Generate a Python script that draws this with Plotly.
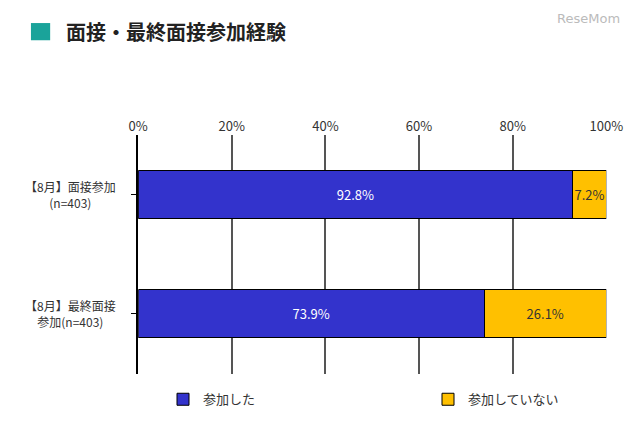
import plotly.graph_objects as go

categories = ["【8月】面接参加<br>(n=403)", "【8月】最終面接<br>参加(n=403)"]
joined = [92.8, 73.9]
not_joined = [7.2, 26.1]
font = "Noto Sans CJK JP"

fig = go.Figure()
fig.add_trace(go.Bar(y=categories, x=joined, orientation="h", name="参加した",
                     marker=dict(color="#3333CC", line=dict(color="black", width=1)),
                     text=[f"{v}%" for v in joined], textposition="inside", textangle=0,
                     insidetextanchor="middle", textfont=dict(color="white", size=13)))
fig.add_trace(go.Bar(y=categories, x=not_joined, orientation="h", name="参加していない",
                     marker=dict(color="#FFC000", line=dict(color="black", width=1)),
                     text=[f"{v}%" for v in not_joined], textposition="inside", textangle=0,
                     constraintext="none", cliponaxis=False,
                     insidetextanchor="middle", textfont=dict(color="#333333", size=13)))

fig.update_layout(
    width=620, height=430, barmode="stack", bargap=0.6,
    paper_bgcolor="white", plot_bgcolor="white",
    margin=dict(l=0, r=0, t=0, b=0, autoexpand=False),
    font=dict(family=font, size=13, color="#333333"),
    showlegend=True,
    legend=dict(orientation="h", x=0.25, y=0.09, xanchor="left", yanchor="middle",
                font=dict(size=13), traceorder="normal",
                entrywidth=220, entrywidthmode="pixels"),
    xaxis=dict(domain=[0.21, 0.965], range=[0, 100], side="top",
               tickvals=[0, 20, 40, 60, 80, 100], ticktext=["0%", "20%", "40%", "60%", "80%", "100%"],
               showgrid=True, gridcolor="#555555", gridwidth=1.5, zeroline=False,
               showline=False, ticks="", automargin=False),
    yaxis=dict(domain=[0.15, 0.705], autorange="reversed", showline=True,
               linecolor="black", linewidth=2, ticks="outside", ticklen=5,
               tickcolor="black", showgrid=False, showticklabels=False, automargin=False),
    annotations=[
        dict(text="<b>面接・最終面接参加経験</b>", x=0.09, y=0.945, xref="paper", yref="paper",
             xanchor="left", yanchor="middle", showarrow=False,
             font=dict(size=20, color="#222222", family=font)),
        dict(text="ReseMom", x=0.99, y=0.975, xref="paper", yref="paper",
             xanchor="right", yanchor="middle", showarrow=False,
             font=dict(size=13, color="#bbbbbb", family="DejaVu Sans")),
    ] + [
        dict(text=c, x=0.1, y=c, xref="paper", yref="y", xanchor="center",
             yanchor="middle", align="center", showarrow=False, font=dict(size=12))
        for c in categories
    ],
    shapes=[dict(type="rect", xref="paper", yref="paper", x0=0.037, x1=0.068,
                 y0=0.925, y1=0.965, fillcolor="#1AA39A", line=dict(width=0))],
)
fig.write_html("out.html")
